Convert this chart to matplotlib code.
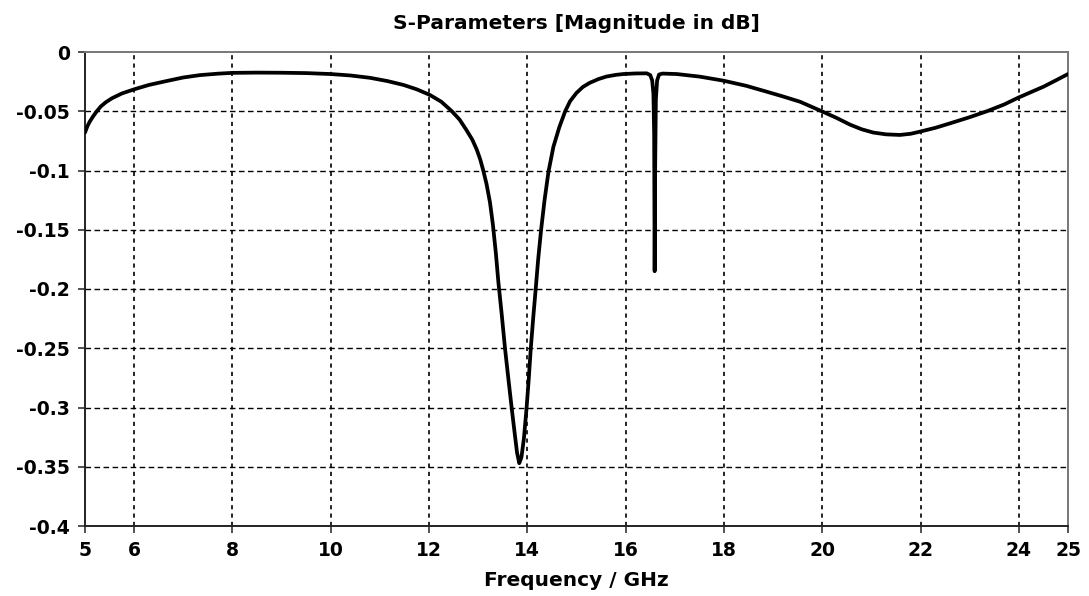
import matplotlib
matplotlib.use("Agg")
import matplotlib.pyplot as plt

# S-parameter magnitude (dB)
freq_ghz = [
    5.0, 5.05, 5.1, 5.17, 5.24, 5.32, 5.42, 5.55, 5.75, 6.0, 6.3, 6.66, 7.0,
    7.34, 7.7, 8.0, 8.5, 9.0, 9.5, 10.0, 10.4, 10.8, 11.15, 11.48, 11.75,
    12.02, 12.25, 12.46, 12.62, 12.76, 12.88, 12.97, 13.04, 13.1, 13.17,
    13.24, 13.3, 13.36, 13.41, 13.48, 13.545, 13.62, 13.68, 13.74, 13.79,
    13.835, 13.88, 13.93, 13.985, 14.03, 14.07, 14.12, 14.17, 14.22, 14.28,
    14.35, 14.43, 14.53, 14.65, 14.77, 14.87, 15.0, 15.13, 15.27, 15.45,
    15.61, 15.8, 15.95, 16.2, 16.43, 16.5, 16.54, 16.565, 16.58, 16.59,
    16.6, 16.615, 16.64, 16.68, 16.75, 17.04, 17.51, 17.99, 18.45, 18.87,
    19.2, 19.55, 19.99, 20.3, 20.56, 20.8, 21.04, 21.3, 21.58, 21.8, 21.99,
    22.3, 22.6, 23.0, 23.35, 23.7, 23.99, 24.25, 24.5, 24.75, 25.0,
]
s_db = [
    -0.068, -0.0625, -0.0585, -0.054, -0.050, -0.046, -0.0425, -0.039,
    -0.035, -0.0315, -0.0278, -0.0245, -0.0215, -0.0195, -0.0183, -0.0176,
    -0.0174, -0.0175, -0.0178, -0.0186, -0.0198, -0.0218, -0.0245, -0.0278,
    -0.0315, -0.0363, -0.042, -0.0498, -0.057, -0.0658, -0.074, -0.0823,
    -0.0905, -0.0995, -0.1115, -0.127, -0.146, -0.170, -0.194, -0.222,
    -0.250, -0.278, -0.300, -0.321, -0.338, -0.347, -0.342, -0.326, -0.300,
    -0.275, -0.250, -0.224, -0.200, -0.175, -0.150, -0.125, -0.101, -0.080,
    -0.0635, -0.050, -0.0415, -0.0345, -0.0295, -0.026, -0.0228, -0.0207,
    -0.0193, -0.0186, -0.0181, -0.018, -0.0195, -0.024, -0.035, -0.070,
    -0.185, -0.100, -0.040, -0.024, -0.019, -0.0182, -0.0186, -0.0208,
    -0.0242, -0.0285, -0.0335, -0.0375, -0.042, -0.050, -0.0558, -0.0612,
    -0.0652, -0.068, -0.0695, -0.070, -0.069, -0.0672, -0.064, -0.0602,
    -0.055, -0.050, -0.0443, -0.0385, -0.0338, -0.0293, -0.024, -0.0186,
]

x_ticks = [5, 6, 8, 10, 12, 14, 16, 18, 20, 22, 24, 25]
y_ticks = [0, -0.05, -0.1, -0.15, -0.2, -0.25, -0.3, -0.35, -0.4]
y_tick_labels = ["0", "-0.05", "-0.1", "-0.15", "-0.2", "-0.25", "-0.3", "-0.35", "-0.4"]

fig = plt.figure(figsize=(10.89, 5.96), dpi=100)
ax = fig.add_axes([85 / 1089, 1 - 526 / 596, 983 / 1089, 474 / 596])

# grid
for x in x_ticks[1:-1]:
    ax.axvline(x, color="black", linewidth=1.2, linestyle=(0, (2.5, 2.5)), zorder=1)
for y in y_ticks[1:-1]:
    ax.axhline(y, color="black", linewidth=1.0, linestyle=(0, (4, 2.5)), zorder=1)

ax.plot(freq_ghz, s_db, color="black", linewidth=2.7, solid_joinstyle="round",
        solid_capstyle="round", zorder=3)

ax.set_xlim(5, 25)
ax.set_ylim(-0.4, 0)
ax.set_xticks(x_ticks)
ax.set_xticklabels([str(t) for t in x_ticks])
ax.set_yticks(y_ticks)
ax.set_yticklabels(y_tick_labels)

for lbl in ax.get_xticklabels() + ax.get_yticklabels():
    lbl.set_family("DejaVu Sans")
    lbl.set_weight("bold")
    lbl.set_size(13.5)

ax.tick_params(direction="out", length=5, width=1.2, colors="#333333",
               labelcolor="black", pad=6)

for side in ("left", "bottom"):
    ax.spines[side].set_color("#222222")
    ax.spines[side].set_linewidth(1.4)
for side in ("top", "right"):
    ax.spines[side].set_color("#777777")
    ax.spines[side].set_linewidth(1.4)

fig.text(576 / 1089, 1 - 29 / 596, "S-Parameters [Magnitude in dB]", fontsize=14.5,
         fontweight="bold", family="DejaVu Sans", ha="center", va="baseline")
fig.text(576 / 1089, 1 - 586 / 596, "Frequency / GHz", fontsize=14.5,
         fontweight="bold", family="DejaVu Sans", ha="center", va="baseline")

fig.savefig("out.png", dpi=100)
